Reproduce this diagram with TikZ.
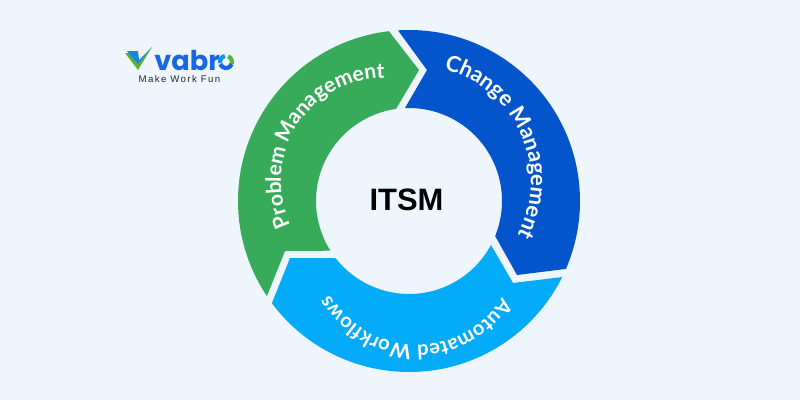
\documentclass[tikz,border=0pt]{standalone}
\usepackage{fontspec}
\usepackage{xcolor}
\usetikzlibrary{decorations.text}
\setmainfont{Liberation Sans}
\newfontfamily\ringfont{Lato}
\newfontfamily\tagfont{Liberation Sans}[LetterSpace=14]
\newfontfamily\brandfont{Poppins}
\definecolor{pagebg}{HTML}{EEF5FD}
\definecolor{problemgreen}{HTML}{38AB5A}
\definecolor{changeblue}{HTML}{0455CC}
\definecolor{autocyan}{HTML}{04ABF8}
\definecolor{brandblue}{HTML}{1A66E0}
\definecolor{brandgreen}{HTML}{5FB03A}
\tikzset{
    ringlabel/.style 2 args={decorate, decoration={text along path, text align=center,
        text={|\ringfont\bfseries\fontsize{#1}{14}\selectfont\color{white}|#2}}}
}

\begin{document}
\begin{tikzpicture}[x=0.02cm, y=0.02cm]
    % Page
    \useasboundingbox (0,0) rectangle (800,400);
    \fill[pagebg] (0,0) rectangle (800,400);

    % Logo
    \fill[brandgreen] (125,347) -- (130,347) -- (138,337) -- (152,353) -- (138,330) -- cycle;
    \fill[brandblue!80!cyan] (127,349) -- (138,349) -- (139,340) -- (152,353) -- (138,336) -- cycle;
    \node[brandblue, font=\brandfont\bfseries\fontsize{15.5}{18}\selectfont, anchor=base west, inner sep=0pt] (brand) at (154,330) {vabr};
    \draw[brandgreen, line width=2.4pt] (226,338) ++(70:6) arc[start angle=70, end angle=-20, radius=6];
    \draw[brandblue, line width=2.4pt] (226,338) ++(200:6) arc[start angle=200, end angle=340, radius=6];
    \draw[brandblue!70!cyan, line width=2.4pt] (226,338) ++(100:6) arc[start angle=100, end angle=190, radius=6];
    \node[font=\tagfont\fontsize{5.5}{6}\selectfont, text=black!85] (tagline) at (179.5,321) {Make Work Fun};

    \begin{scope}[shift={(409,199)}]
        % Problem Management
        \fill[problemgreen] (96.75:171) arc[start angle=96.75, end angle=213.8, radius=171]
            -- (-124,-50) -- (212.3:93) arc[start angle=212.3, end angle=98, radius=93]
            -- (10,131) -- cycle;

        % Change Management
        \fill[changeblue] (93.7:171) arc[start angle=93.7, end angle=-23.4, radius=171]
            -- (108,-74) -- (-22.1:93) arc[start angle=-22.1, end angle=92.5, radius=93]
            -- (18,131) -- cycle;

        % Automated Workflows
        \fill[autocyan] (216.7:171) arc[start angle=216.7, end angle=333.6, radius=171]
            -- (104,-82) -- (-28.2:93) arc[start angle=331.8, end angle=218, radius=93]
            -- (-119,-57) -- cycle;

        % Centre
        \node[font=\bfseries\fontsize{17.6}{22}\selectfont] (itsm) at (-2.5,1) {ITSM};
    \end{scope}

    % Curved labels
    \path[ringlabel={12}{Problem Management}] (384,219) ++(217.6:103) arc[start angle=217.6, end angle=77.6, radius=103];
    \path[ringlabel={12.5}{Change Management}] (416,219) ++(94:115) arc[start angle=94, end angle=-46, radius=115];
    \path[ringlabel={11.5}{Automated Workflows}] (417,155) ++(-21:100) arc[start angle=-21, end angle=-161, radius=100];
\end{tikzpicture}
\end{document}
